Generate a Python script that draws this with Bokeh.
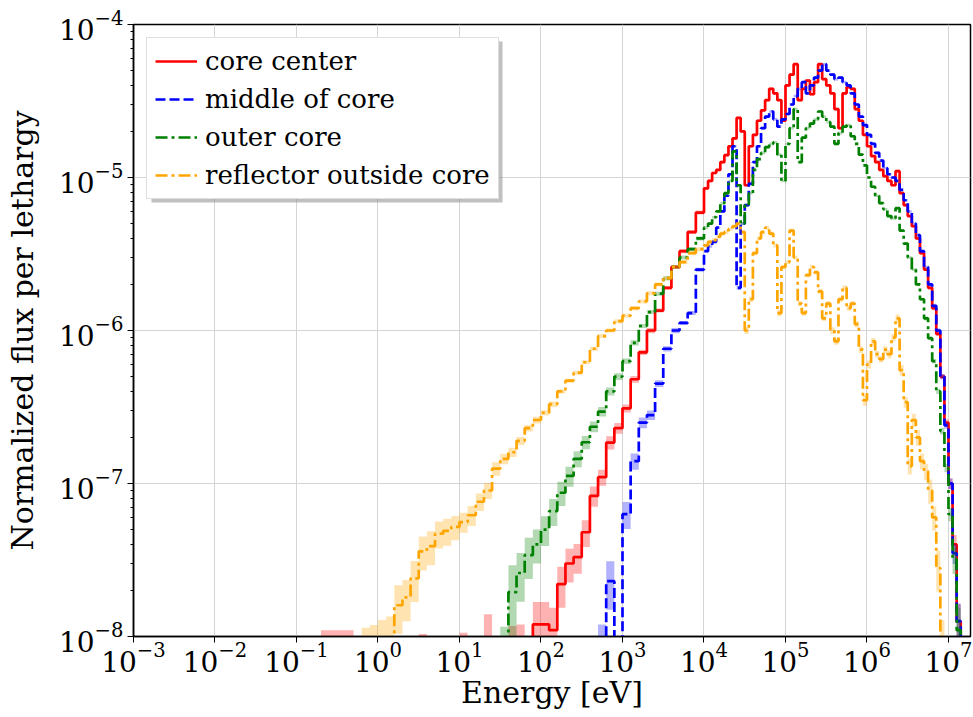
import numpy as np
from bokeh.plotting import figure
from bokeh.models import FixedTicker, LogTickFormatter, Legend, LegendItem, Range1d, BoxAnnotation
from bokeh.embed import file_html
from bokeh.resources import INLINE

# ---------------- bin structure (log10 of energy edges, eV) ----------------
low_edge_exp = np.round(np.arange(-1.0, 4.0001, 0.1), 2)    # 0.1-decade bins up to 10 keV
high_edge_exp = np.round(np.arange(4.05, 7.2001, 0.05), 2)  # 0.05-decade bins above
edges = 10.0 ** np.concatenate([low_edge_exp, high_edge_exp])

EMPTY = 1e-10  # bins with no tally (drawn below the axis)

# ---------------- flux per lethargy ----------------
core_center = [
    EMPTY, EMPTY, EMPTY, 5.5e-9, 5.5e-9, 5.5e-9, 5.5e-9, 5.0e-9, EMPTY, EMPTY,
    EMPTY, EMPTY, EMPTY, EMPTY, EMPTY, 5.2e-9, EMPTY, EMPTY, EMPTY, EMPTY,
    5.3e-9, EMPTY, EMPTY, 7.0e-9, EMPTY, EMPTY, 9.0e-9, 6.0e-9, EMPTY, 1.2e-8,
    1.2e-8, 1.1e-8, 2.2e-8, 3.0e-8, 3.3e-8, 4.8e-8, 8.3e-8, 1.1e-7, 1.85e-7, 2.3e-7,
    3.1e-7, 4.8e-7, 7.2e-7, 1.0e-6, 1.35e-6, 1.9e-6, 2.6e-6, 3.3e-6, 4.4e-6, 5.9e-6,
    8.5e-6, 9.5e-6, 1.07e-5, 1.12e-5, 1.26e-5, 1.4e-5, 1.6e-5, 1.8e-5, 2.45e-5, 2.0e-5,
    8.9e-6, 1.6e-5, 1.9e-5, 2.35e-5, 2.75e-5, 3.2e-5, 3.8e-5, 3.55e-5, 3.2e-5, 2.35e-5,
    4.0e-5, 4.7e-5, 5.5e-5, 3.2e-5, 3.8e-5, 4.3e-5, 3.5e-5, 4.2e-5, 5.5e-5, 4.4e-5,
    4.0e-5, 3.55e-5, 2.8e-5, 2.1e-5, 3.55e-5, 3.9e-5, 3.8e-5, 2.8e-5, 2.35e-5, 1.9e-5,
    1.6e-5, 1.38e-5, 1.26e-5, 1.12e-5, 1.02e-5, 9.5e-6, 8.9e-6, 1.1e-5, 7.9e-6, 6.6e-6,
    5.6e-6, 4.8e-6, 4.0e-6, 3.2e-6, 2.5e-6, 1.9e-6, 1.4e-6, 9.5e-7, 5.0e-7, 2.5e-7,
    1.0e-7, 4.0e-8, 1.26e-8, EMPTY,
]
core_center_err = [
    0, 0, 0, 1.0, 1.0, 1.0, 1.0, 1.0, 0, 0,
    0, 0, 0, 0, 0, 1.0, 0, 0, 0, 0,
    1.0, 0, 0, 1.0, 0, 0, 0.3, 1.0, 0, 0.4,
    0.4, 0.4, 0.3, 0.25, 0.22, 0.2, 0.15, 0.12, 0.1, 0.08,
    0.06, 0.05, 0.04, 0.04, 0.03, 0.03, 0.03, 0.03, 0.03, 0.03,
    0.02, 0.02, 0.02, 0.02, 0.02, 0.02, 0.02, 0.02, 0.02, 0.02,
    0.02, 0.02, 0.02, 0.02, 0.02, 0.02, 0.02, 0.02, 0.02, 0.02,
    0.02, 0.02, 0.02, 0.02, 0.02, 0.02, 0.02, 0.02, 0.02, 0.02,
    0.02, 0.02, 0.02, 0.02, 0.02, 0.02, 0.02, 0.02, 0.02, 0.02,
    0.02, 0.02, 0.02, 0.02, 0.02, 0.02, 0.02, 0.02, 0.02, 0.02,
    0.02, 0.02, 0.02, 0.02, 0.02, 0.02, 0.03, 0.03, 0.04, 0.05,
    0.08, 0.15, 0.3, 0,
]

middle_of_core = [
    EMPTY, EMPTY, EMPTY, EMPTY, EMPTY, EMPTY, EMPTY, EMPTY, EMPTY, EMPTY,
    EMPTY, EMPTY, EMPTY, EMPTY, EMPTY, EMPTY, EMPTY, EMPTY, EMPTY, EMPTY,
    EMPTY, EMPTY, EMPTY, EMPTY, EMPTY, EMPTY, EMPTY, EMPTY, EMPTY, EMPTY,
    EMPTY, EMPTY, EMPTY, EMPTY, EMPTY, EMPTY, EMPTY, 6.0e-9, 2.3e-8, 5.0e-9,
    6.3e-8, 1.4e-7, 2.5e-7, 2.8e-7, 4.5e-7, 7.6e-7, 1.0e-6, 1.12e-6, 1.3e-6, 2.5e-6,
    3.3e-6, 3.55e-6, 3.8e-6, 4.7e-6, 6.0e-6, 7.6e-6, 1.05e-5, 1.6e-5, 1.9e-6, 5.0e-6,
    6.6e-6, 9.1e-6, 1.26e-5, 1.6e-5, 2.1e-5, 2.5e-5, 2.7e-5, 2.4e-5, 2.15e-5, 2.4e-5,
    2.6e-5, 3.0e-5, 3.4e-5, 3.8e-5, 4.2e-5, 3.55e-5, 4.0e-5, 4.5e-5, 5.0e-5, 5.5e-5,
    5.0e-5, 4.7e-5, 4.4e-5, 4.5e-5, 4.2e-5, 4.0e-5, 3.55e-5, 3.0e-5, 2.5e-5, 2.2e-5,
    1.9e-5, 1.66e-5, 1.45e-5, 1.29e-5, 1.15e-5, 1.05e-5, 1.0e-5, 9.5e-6, 8.3e-6, 7.1e-6,
    6.0e-6, 5.0e-6, 4.2e-6, 3.3e-6, 2.6e-6, 2.0e-6, 1.45e-6, 1.0e-6, 5.0e-7, 2.4e-7,
    1.0e-7, 3.5e-8, 1.26e-8, EMPTY,
]
middle_of_core_err = [
    0, 0, 0, 0, 0, 0, 0, 0, 0, 0,
    0, 0, 0, 0, 0, 0, 0, 0, 0, 0,
    0, 0, 0, 0, 0, 0, 0, 0, 0, 0,
    0, 0, 0, 0, 0, 0, 0, 1.0, 0.35, 1.0,
    0.2, 0.12, 0.08, 0.07, 0.05, 0.04, 0.04, 0.03, 0.03, 0.03,
    0.02, 0.02, 0.02, 0.02, 0.02, 0.02, 0.02, 0.02, 0.03, 0.02,
    0.02, 0.02, 0.02, 0.02, 0.02, 0.02, 0.02, 0.02, 0.02, 0.02,
    0.02, 0.02, 0.02, 0.02, 0.02, 0.02, 0.02, 0.02, 0.02, 0.02,
    0.02, 0.02, 0.02, 0.02, 0.02, 0.02, 0.02, 0.02, 0.02, 0.02,
    0.02, 0.02, 0.02, 0.02, 0.02, 0.02, 0.02, 0.02, 0.02, 0.02,
    0.02, 0.02, 0.02, 0.02, 0.02, 0.02, 0.03, 0.03, 0.04, 0.05,
    0.08, 0.15, 0.3, 0,
]

outer_core = [
    EMPTY, EMPTY, EMPTY, EMPTY, EMPTY, EMPTY, EMPTY, EMPTY, EMPTY, EMPTY,
    EMPTY, EMPTY, EMPTY, EMPTY, EMPTY, EMPTY, EMPTY, EMPTY, EMPTY, EMPTY,
    EMPTY, EMPTY, EMPTY, EMPTY, EMPTY, 5.8e-9, 1.95e-8, 2.6e-8, 3.4e-8, 4.0e-8,
    5.0e-8, 6.6e-8, 8.7e-8, 1.12e-7, 1.45e-7, 1.86e-7, 2.35e-7, 2.95e-7, 4.0e-7, 5.0e-7,
    6.3e-7, 8.3e-7, 1.07e-6, 1.32e-6, 1.74e-6, 2.2e-6, 2.6e-6, 3.0e-6, 3.4e-6, 4.0e-6,
    4.7e-6, 5.0e-6, 5.5e-6, 6.0e-6, 6.8e-6, 7.9e-6, 9.5e-6, 1.48e-5, 8.9e-6, 5.0e-6,
    6.6e-6, 7.9e-6, 1.12e-5, 1.32e-5, 1.45e-5, 1.58e-5, 1.66e-5, 1.7e-5, 1.41e-5, 9.5e-6,
    1.66e-5, 2.1e-5, 2.8e-5, 1.26e-5, 1.82e-5, 2.1e-5, 2.25e-5, 2.4e-5, 2.7e-5, 2.5e-5,
    2.3e-5, 2.15e-5, 1.66e-5, 1.95e-5, 2.15e-5, 2.2e-5, 1.86e-5, 1.66e-5, 1.41e-5, 1.2e-5,
    1.0e-5, 8.7e-6, 7.6e-6, 6.8e-6, 6.2e-6, 5.6e-6, 5.4e-6, 6.3e-6, 4.5e-6, 3.7e-6,
    3.0e-6, 2.5e-6, 2.0e-6, 1.6e-6, 1.2e-6, 8.9e-7, 6.3e-7, 4.0e-7, 2.2e-7, 1.26e-7,
    6.3e-8, 3.2e-8, 1.1e-8, EMPTY,
]
outer_core_err = [
    0, 0, 0, 0, 0, 0, 0, 0, 0, 0,
    0, 0, 0, 0, 0, 0, 0, 0, 0, 0,
    0, 0, 0, 0, 0, 1.0, 0.5, 0.35, 0.3, 0.25,
    0.22, 0.2, 0.18, 0.15, 0.12, 0.1, 0.08, 0.07, 0.06, 0.05,
    0.04, 0.04, 0.03, 0.03, 0.03, 0.03, 0.03, 0.03, 0.03, 0.03,
    0.02, 0.02, 0.02, 0.02, 0.02, 0.02, 0.02, 0.02, 0.02, 0.02,
    0.02, 0.02, 0.02, 0.02, 0.02, 0.02, 0.02, 0.02, 0.02, 0.02,
    0.02, 0.02, 0.02, 0.02, 0.02, 0.02, 0.02, 0.02, 0.02, 0.02,
    0.02, 0.02, 0.02, 0.02, 0.02, 0.02, 0.02, 0.02, 0.02, 0.02,
    0.02, 0.02, 0.02, 0.02, 0.02, 0.02, 0.02, 0.02, 0.02, 0.02,
    0.02, 0.02, 0.02, 0.02, 0.03, 0.03, 0.03, 0.04, 0.05, 0.06,
    0.1, 0.2, 0.4, 0,
]

reflector_outside_core = [
    EMPTY, EMPTY, EMPTY, EMPTY, EMPTY, EMPTY, EMPTY, EMPTY, 6.0e-9, 7.0e-9,
    8.0e-9, 9.0e-9, 1.6e-8, 1.8e-8, 2.4e-8, 3.6e-8, 3.9e-8, 4.7e-8, 4.9e-8, 5.2e-8,
    5.6e-8, 6.2e-8, 7.6e-8, 9.0e-8, 1.25e-7, 1.45e-7, 1.6e-7, 1.9e-7, 2.3e-7, 2.6e-7,
    2.9e-7, 3.3e-7, 4.0e-7, 4.7e-7, 5.3e-7, 6.2e-7, 7.6e-7, 9.2e-7, 1.0e-6, 1.15e-6,
    1.25e-6, 1.4e-6, 1.55e-6, 1.75e-6, 2.0e-6, 2.2e-6, 2.6e-6, 2.8e-6, 3.2e-6, 3.4e-6,
    3.6e-6, 3.8e-6, 3.9e-6, 4.1e-6, 4.3e-6, 4.4e-6, 4.6e-6, 4.8e-6, 5.0e-6, 4.4e-6,
    1.0e-6, 1.6e-6, 3.2e-6, 4.0e-6, 4.4e-6, 4.7e-6, 4.3e-6, 3.6e-6, 1.3e-6, 2.6e-6,
    2.8e-6, 4.5e-6, 3.0e-6, 1.5e-6, 1.3e-6, 2.3e-6, 2.6e-6, 2.4e-6, 1.8e-6, 1.2e-6,
    1.5e-6, 1.0e-6, 8.5e-7, 1.6e-6, 1.9e-6, 1.4e-6, 1.5e-6, 1.1e-6, 7.5e-7, 3.5e-7,
    6.0e-7, 8.5e-7, 7.0e-7, 6.5e-7, 7.5e-7, 7.0e-7, 9.0e-7, 1.2e-6, 5.5e-7, 3.4e-7,
    1.3e-7, 2.6e-7, 2.0e-7, 1.4e-7, 1.2e-7, 9.0e-8, 6.0e-8, 2.8e-8, 8.0e-9, EMPTY,
    EMPTY, EMPTY, EMPTY, EMPTY,
]
reflector_outside_core_err = [
    0, 0, 0, 0, 0, 0, 0, 0, 0.9, 0.7,
    0.6, 0.5, 0.35, 0.3, 0.3, 0.25, 0.25, 0.2, 0.2, 0.18,
    0.15, 0.15, 0.13, 0.12, 0.1, 0.08, 0.07, 0.06, 0.05, 0.05,
    0.04, 0.04, 0.03, 0.03, 0.03, 0.03, 0.03, 0.03, 0.03, 0.03,
    0.03, 0.03, 0.03, 0.03, 0.03, 0.03, 0.03, 0.03, 0.03, 0.03,
    0.03, 0.03, 0.03, 0.03, 0.03, 0.03, 0.03, 0.03, 0.03, 0.03,
    0.05, 0.04, 0.03, 0.03, 0.03, 0.03, 0.03, 0.03, 0.05, 0.03,
    0.03, 0.03, 0.03, 0.04, 0.04, 0.03, 0.03, 0.03, 0.04, 0.04,
    0.04, 0.05, 0.05, 0.04, 0.04, 0.04, 0.04, 0.05, 0.05, 0.08,
    0.06, 0.05, 0.05, 0.05, 0.05, 0.06, 0.06, 0.06, 0.08, 0.08,
    0.12, 0.1, 0.12, 0.12, 0.12, 0.18, 0.18, 0.3, 0.6, 0,
    0, 0, 0, 0,
]

labels = ["core center", "middle of core", "outer core", "reflector outside core"]
colors = ["#ff0000", "#0000ff", "#008000", "#ffa500"]
dashes = ["solid", "10 4", "12 4 3 4", "12 4 3 4"]
values = [core_center, middle_of_core, outer_core, reflector_outside_core]
errors = [core_center_err, middle_of_core_err, outer_core_err, reflector_outside_core_err]

x_ticks = [10.0 ** k for k in range(-3, 8)]
y_ticks = [10.0 ** k for k in range(-8, -3)]
y_minor = [m * 10.0 ** k for k in range(-8, -4) for m in range(2, 10)]

# ---------------- figure ----------------
p = figure(width=972, height=716, x_axis_type="log", y_axis_type="log",
           x_range=Range1d(1e-3, 10 ** 7.27), y_range=Range1d(1e-8, 1e-4),
           output_backend="svg", toolbar_location=None,
           min_border_left=133, min_border_right=2, min_border_top=24, min_border_bottom=80,
           background_fill_color="white", border_fill_color="white")

xt = FixedTicker(ticks=x_ticks, minor_ticks=[])
yt = FixedTicker(ticks=y_ticks, minor_ticks=y_minor)
p.xaxis.ticker = xt
p.yaxis.ticker = yt
p.xgrid.ticker = xt
p.ygrid.ticker = yt
p.xaxis.formatter = LogTickFormatter()
p.yaxis.formatter = LogTickFormatter()

for ax in (p.xaxis[0], p.yaxis[0]):
    ax.major_label_text_font = "DejaVu Serif"
    ax.major_label_text_font_size = "28px"
    ax.major_label_text_color = "black"
    ax.axis_label_text_font = "DejaVu Serif"
    ax.axis_label_text_font_size = "30px"
    ax.axis_label_text_font_style = "normal"
    ax.axis_label_text_color = "black"
    ax.major_tick_out = 6
    ax.major_tick_in = 0
    ax.minor_tick_out = 3
    ax.minor_tick_in = 0
    ax.axis_line_color = "black"
    ax.axis_line_width = 1.5
    ax.major_tick_line_color = "black"
    ax.minor_tick_line_color = "black"
p.xaxis.minor_tick_line_color = None
p.xaxis.major_label_standoff = -1
p.xaxis.axis_label_standoff = 0
p.yaxis.major_label_standoff = 4
p.yaxis.axis_label_standoff = 16
p.xaxis.axis_label = "Energy [eV]"
p.yaxis.axis_label = "Normalized flux per lethargy"

p.outline_line_color = "black"
p.outline_line_width = 1.5
p.outline_line_alpha = 1.0
p.grid.grid_line_color = "#d4d4d4"
p.grid.grid_line_width = 1

items = []
for lab, vals, err, col, dash in zip(labels, values, errors, colors, dashes):
    v = np.asarray(vals, dtype=float)
    e = np.asarray(err, dtype=float)
    lo = np.clip(v * (1.0 - e), 1e-12, None)
    hi = v * (1.0 + e)
    p.varea_step(x=edges, y1=np.append(lo, lo[-1]), y2=np.append(hi, hi[-1]),
                 step_mode="after", fill_color=col, fill_alpha=0.3)
    r = p.step(x=edges, y=np.append(v, v[-1]), mode="after",
               line_color=col, line_width=2.7, line_dash=dash)
    items.append(LegendItem(label=lab, renderers=[r]))

# soft drop shadow behind the legend box (screen units, relative to the plot frame)
shadow = BoxAnnotation(left=18, right=369, top=595, bottom=434,
                       left_units="screen", right_units="screen",
                       top_units="screen", bottom_units="screen",
                       fill_color="#8c8c8c", fill_alpha=0.55, line_color=None)
p.add_layout(shadow)

legend = Legend(items=items, location="top_left", margin=13, padding=8, spacing=8,
                label_text_font="DejaVu Serif", label_text_font_size="26px",
                label_text_color="black", label_height=30, label_standoff=8,
                glyph_width=42, glyph_height=30,
                border_line_color="#c0c0c0", border_line_width=1.5,
                background_fill_color="white", background_fill_alpha=1.0)
p.add_layout(legend)

open("out.html", "w").write(file_html(p, INLINE))
